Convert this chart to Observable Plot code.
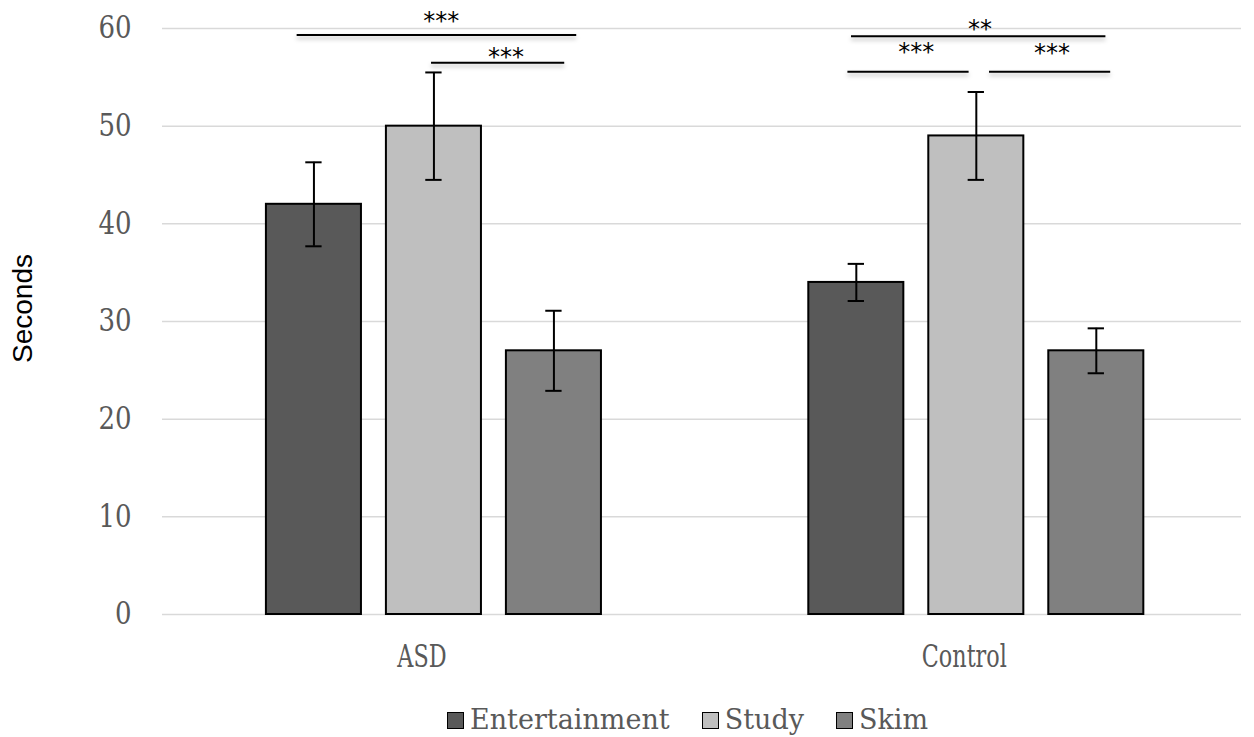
<!DOCTYPE html>
<html>
<head>
<meta charset="utf-8">
<script src="https://cdn.jsdelivr.net/npm/d3@7"></script>
<script src="https://cdn.jsdelivr.net/npm/@observablehq/plot@0.6"></script>
<style>
  body { margin: 0; background: #fff; }
  #wrap { position: relative; width: 1254px; height: 737px; overflow: hidden; }
  #legend { position: absolute; left: 447px; top: 705px; height: 30px; line-height: 30px;
            display: flex; align-items: center; font-family: "DejaVu Serif"; font-size: 27px; color: #595959; }
  #legend .item { display: flex; align-items: center; margin-right: 32px; }
  #legend .sw { width: 15px; height: 15px; border: 1.5px solid #000; margin-right: 6px; }
  .sig-shadow line { filter: drop-shadow(0px 3px 2px rgba(0,0,0,0.28)); }
</style>
</head>
<body>
<div id="wrap"><div id="chart"></div><div id="legend"></div></div>
<script>
// ---- data ----
const groups = ["ASD", "Control"];
const conditions = ["Entertainment", "Study", "Skim"];
const colors = ["#595959", "#bfbfbf", "#808080"];
const asdMeans = [42, 50, 27];
const asdErrors = [4.3, 5.5, 4.1];
const controlMeans = [34, 49, 27];
const controlErrors = [1.9, 4.5, 2.3];
const yTicks = [0, 10, 20, 30, 40, 50, 60];
const yLabel = "Seconds";
// significance brackets (from/to/labelX in bar steps from the group's first bar)
const sigGroup = ["ASD", "ASD", "Control", "Control", "Control"];
const sigFrom = [-0.14, 0.98, -0.04, -0.07, 1.11];
const sigTo = [2.19, 2.09, 2.08, 0.94, 2.12];
const sigValue = [59.33, 56.5, 59.2, 55.58, 55.58];
const sigText = ["***", "***", "**", "***", "***"];
const sigTextX = [1.06, 1.6, 1.03, 0.5, 1.63];
const sigTextY = [61.2, 57.6, 60.4, 58.1, 58.0];

// ---- layout helpers ----
const GROUP_STEP = 4.52;   // distance between groups, in bar steps
const HALF_BAR = 0.396;    // half bar width, in bar steps
const HALF_CAP = 0.068;    // half error cap width, in bar steps

const means = [asdMeans, controlMeans];
const errs = [asdErrors, controlErrors];
const rows = [];
groups.forEach((g, gi) => conditions.forEach((c, ci) => {
  rows.push({group: g, condition: c, pos: gi * GROUP_STEP + ci, mean: means[gi][ci], err: errs[gi][ci]});
}));
const sig = sigGroup.map((g, i) => {
  const base = groups.indexOf(g) * GROUP_STEP;
  return {x1: base + sigFrom[i], x2: base + sigTo[i], y: sigValue[i], text: sigText[i], tx: base + sigTextX[i], ty: sigTextY[i]};
});
const groupRows = groups.map((g, gi) => ({label: g, pos: gi * GROUP_STEP + 1}));

const svg = Plot.plot({
  width: 1254,
  height: 690,
  marginLeft: 162,
  marginRight: 13,
  marginTop: 28,
  marginBottom: 76,
  style: {background: "#fff", overflow: "visible"},
  x: {domain: [-1.262, 7.73], axis: null},
  y: {domain: [0, 60], axis: null},
  color: {domain: conditions, range: colors},
  marks: [
    Plot.ruleY(yTicks, {y: d => d, stroke: "#d9d9d9", strokeWidth: 1.5}),
    Plot.text(yTicks, {y: d => d, frameAnchor: "left", textAnchor: "end", dx: -31, text: d => String(d),
      fontFamily: "DejaVu Serif", fontSize: 31, fill: "#595959"}),
    Plot.rectY(rows, {x1: d => d.pos - HALF_BAR, x2: d => d.pos + HALF_BAR, y1: 0, y2: "mean",
      fill: "condition", stroke: "#000", strokeWidth: 2}),
    Plot.ruleX(rows, {x: "pos", y1: d => d.mean - d.err, y2: d => d.mean + d.err, stroke: "#000", strokeWidth: 2}),
    Plot.ruleY(rows, {y: d => d.mean + d.err, x1: d => d.pos - HALF_CAP, x2: d => d.pos + HALF_CAP, stroke: "#000", strokeWidth: 2}),
    Plot.ruleY(rows, {y: d => d.mean - d.err, x1: d => d.pos - HALF_CAP, x2: d => d.pos + HALF_CAP, stroke: "#000", strokeWidth: 2}),
    Plot.ruleY(sig, {y: "y", x1: "x1", x2: "x2", stroke: "#000", strokeWidth: 2}),
    Plot.text(sig, {x: "tx", y: "ty", text: "text", fontFamily: "DejaVu Sans", fontSize: 24, fill: "#000", dy: 5}),
    Plot.text(groupRows, {x: "pos", y: 0, text: "label", dx: -12, dy: 43, fontFamily: "DejaVu Serif", fontSize: 31,
      fill: "#595959"}),
    Plot.text([yLabel], {frameAnchor: "left", textAnchor: "middle", text: d => d, rotate: -90, dx: -139, dy: -13,
      fontFamily: "Liberation Sans", fontSize: 28, fill: "#000"})
  ]
});

// condense the serif axis texts horizontally (the reference glyphs are narrow)
function squeezeText(t, k) {
  const tr = t.getAttribute("transform");
  if (tr) t.setAttribute("transform", tr + ` scale(${k},1)`);
  else {
    const x = +t.getAttribute("x") || 0;
    t.setAttribute("transform", `translate(${x * (1 - k)},0) scale(${k},1)`);
  }
}
const tickStrings = new Set(yTicks.map(String));
const groupStrings = new Set(groups);
svg.querySelectorAll("text").forEach(t => {
  const s = t.textContent;
  if (tickStrings.has(s)) squeezeText(t, 0.84);
  else if (groupStrings.has(s)) squeezeText(t, 0.72);
});
// soft shadow under significance lines: the rule group with one line per bracket
svg.querySelectorAll("g").forEach(g => {
  const lines = g.querySelectorAll(":scope > line");
  if (lines.length === sig.length && g.querySelectorAll(":scope > *").length === sig.length) g.classList.add("sig-shadow");
});

document.getElementById("chart").appendChild(svg);

const legend = document.getElementById("legend");
conditions.forEach((c, i) => {
  const item = document.createElement("div");
  item.className = "item";
  const sw = document.createElement("div");
  sw.className = "sw";
  sw.style.background = colors[i];
  const label = document.createElement("span");
  label.textContent = c;
  item.appendChild(sw);
  item.appendChild(label);
  legend.appendChild(item);
});
</script>
</body>
</html>
